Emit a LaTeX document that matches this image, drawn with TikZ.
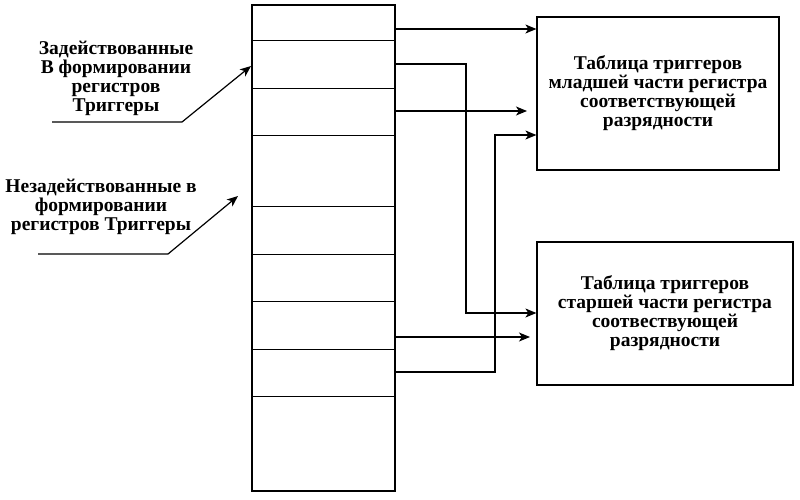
\documentclass[tikz,border=0pt]{standalone}
\usepackage{fontspec}
\setmainfont{Liberation Serif}
\usetikzlibrary{arrows.meta}

\tikzset{
  conn/.style={line width=1.2pt},
  arr/.style={conn, -{Stealth[length=11pt,width=9pt,inset=3pt]}},
  lbl/.style={align=center, font=\bfseries\fontsize{19.5}{19}\selectfont},
  tablebox/.style={draw, line width=1.2pt, lbl, inner sep=0pt}
}

\begin{document}
\begin{tikzpicture}[x=1pt,y=-1pt]
  \useasboundingbox (0,0) rectangle (800,499);

  % Register column
  \node[draw, line width=1.2pt, minimum width=143pt, minimum height=486pt, inner sep=0pt]
    (reg) at (323.5,248) {};
  \foreach \y in {40,88,135,206,254,301,349,396} {
    \draw[line width=1pt] (252,\y) -- (395,\y); % cell borders
  }

  % Tables
  \node[tablebox, minimum width=242pt, minimum height=153pt] (low) at (658,93.5)
    {Таблица триггеров\\младшей части регистра\\соответствующей\\разрядности};
  \node[tablebox, minimum width=256pt, minimum height=143pt] (high) at (665,313.5)
    {Таблица триггеров\\старшей части регистра\\соотвествующей\\разрядности};

  % Left labels
  \node[lbl] (used) at (116,78)
    {Задействованные\\В формировании\\регистров\\Триггеры};
  \node[lbl] (unused) at (101,207)
    {Незадействованные в\\формировании\\регистров Триггеры};

  % Connector end points
  \coordinate (u0) at (52,122);
  \coordinate (u1) at (182,122);
  \coordinate (u2) at (251,66);
  \coordinate (n0) at (38,254);
  \coordinate (n1) at (168,254);
  \coordinate (n2) at (238,196);
  \coordinate (o1) at (395,29);
  \coordinate (o2) at (395,64);
  \coordinate (o3) at (395,111);
  \coordinate (o4) at (395,337);
  \coordinate (o5) at (395,372);
  \coordinate (t3) at (527,111);
  \coordinate (t4) at (530,337);

  \draw[arr] (u0) -- (u1) -- (u2);
  \draw[arr] (n0) -- (n1) -- (n2);

  \draw[arr] (o1) -- (o1 -| low.west);
  \draw[arr] (o2) -- (466,64) |- (high.west |- 0,313);
  \draw[arr] (o3) -- (t3);
  \draw[arr] (o4) -- (t4);
  \draw[arr] (o5) -- (495,372) |- (low.west |- 0,135);
\end{tikzpicture}
\end{document}
